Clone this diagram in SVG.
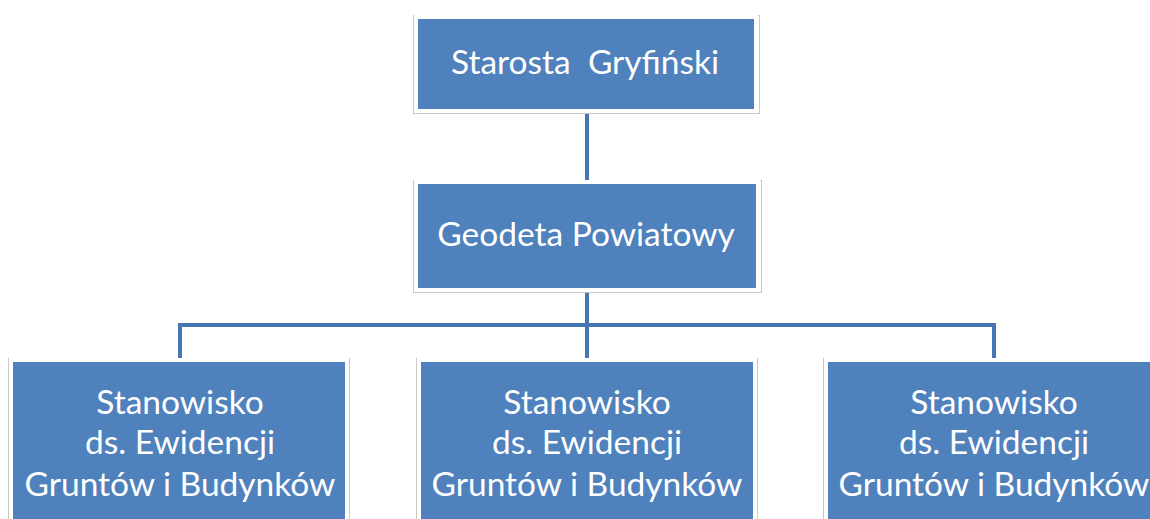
<svg xmlns="http://www.w3.org/2000/svg" width="1150" height="519" viewBox="0 0 1150 519">
<style>
.box{fill:#4F81BD;stroke:#ffffff;stroke-width:4}
.frame{fill:none;stroke:#c8c8c8;stroke-width:1}
.t{font-family:Lato,"Open Sans","DejaVu Sans",sans-serif;font-size:33.5px;fill:#ffffff;text-anchor:middle;white-space:pre}
.c{stroke:#4677B0;stroke-width:4;fill:none}
</style>
<rect width="1150" height="519" fill="#ffffff"/>
<g id="connectors">
<line class="c" x1="587" y1="113" x2="587" y2="180"/>
<line class="c" x1="587" y1="292" x2="587" y2="358"/>
<polyline class="c" points="180,358 180,325 994,325 994,358"/>
</g>
<g id="n1">
<rect class="frame" x="413.5" y="15.5" width="346" height="98"/>
<rect class="box" x="416" y="17" width="340" height="94"/>
<text class="t" x="585" y="74" xml:space="preserve">Starosta  Gryfiński</text>
</g>
<g id="n2">
<rect class="frame" x="413.5" y="180.5" width="348" height="112"/>
<rect class="box" x="416" y="182" width="342" height="108"/>
<text class="t" x="586" y="246">Geodeta Powiatowy</text>
</g>
<g id="n3">
<rect class="frame" x="8.5" y="358.5" width="341" height="170"/>
<rect class="box" x="11" y="360" width="336" height="170"/>
<text class="t" x="180" y="414">Stanowisko</text>
<text class="t" x="180" y="454">ds. Ewidencji</text>
<text class="t" x="180" y="496">Gruntów i Budynków</text>
</g>
<g id="n4">
<rect class="frame" x="416.5" y="358.5" width="341" height="170"/>
<rect class="box" x="419" y="360" width="336" height="170"/>
<text class="t" x="587" y="414">Stanowisko</text>
<text class="t" x="587" y="454">ds. Ewidencji</text>
<text class="t" x="587" y="496">Gruntów i Budynków</text>
</g>
<g id="n5">
<rect class="frame" x="823.5" y="358.5" width="341" height="170"/>
<rect class="box" x="826" y="360" width="336" height="170"/>
<text class="t" x="994" y="414">Stanowisko</text>
<text class="t" x="994" y="454">ds. Ewidencji</text>
<text class="t" x="994" y="496">Gruntów i Budynków</text>
</g>
</svg>
